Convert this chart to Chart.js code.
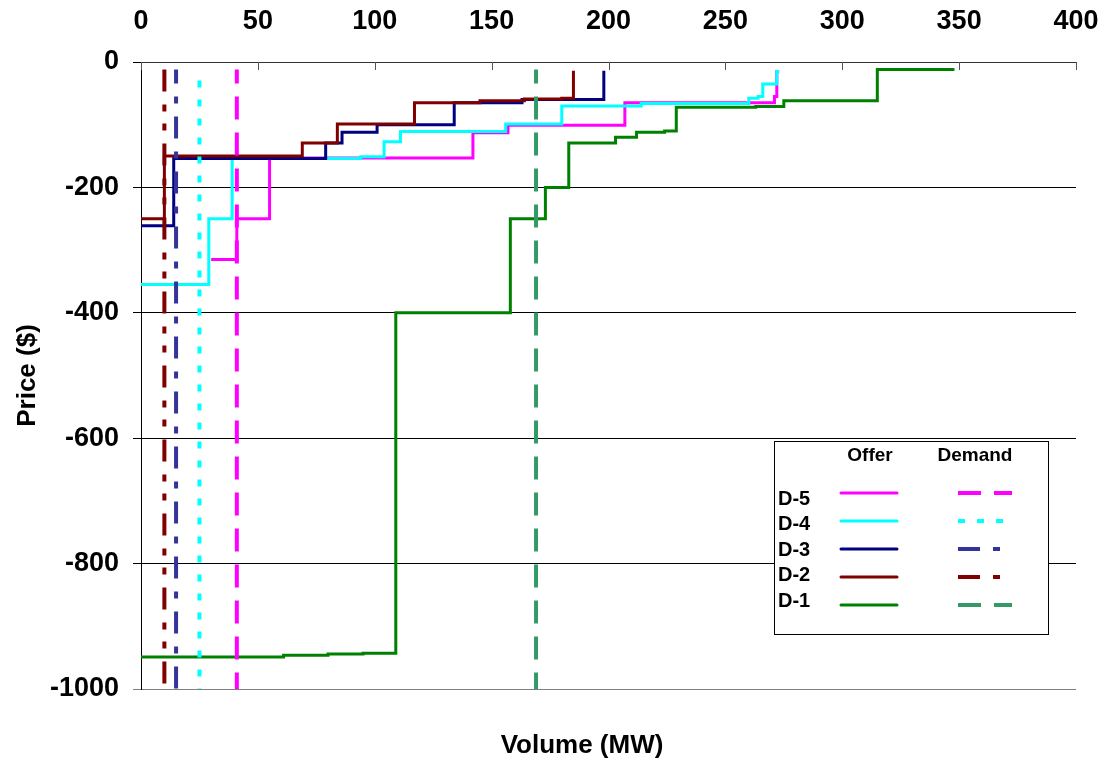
<!DOCTYPE html>
<html>
<head>
<meta charset="utf-8">
<script src="https://cdn.jsdelivr.net/npm/chart.js@4.4.1/dist/chart.umd.min.js"></script>
<style>
    html, body { margin: 0; padding: 0; background: #fff; }
</style>
</head>
<body>
<canvas id="priceChart" width="1111" height="764"></canvas>
<script>
// Offer curves: volume where each price step starts, and its price
const d1OfferVol = [0, 61, 80, 95, 109, 158, 173, 183, 203, 212, 224, 229, 263, 275, 315, 348];
const d1OfferPrice = [-949, -946, -944, -943, -400, -250, -200, -129, -120, -112, -110, -72, -71, -62, -12, -12];
const d2OfferVol = [0, 10, 69, 84, 117, 145, 164, 180, 185];
const d2OfferPrice = [-250, -150, -129, -99, -65, -62, -59, -58, -14];
const d3OfferVol = [0, 14, 79, 86, 101, 134, 163, 198];
const d3OfferPrice = [-261, -154, -129, -112, -100, -65, -60, -14];
const d4OfferVol = [0, 29, 39, 94, 104, 111, 156, 180, 214, 260, 264, 266, 272, 273];
const d4OfferPrice = [-355, -250, -154, -151, -127, -111, -99, -70, -66, -58, -55, -35, -15, -15];
const d5OfferVol = [30, 41, 55, 142, 157, 207, 271, 272, 273];
const d5OfferPrice = [-315, -250, -153, -113, -101, -65, -55, -15, -15];

// Demand (vertical lines)
const demandLabels = ['D-1', 'D-2', 'D-3', 'D-4', 'D-5'];
const demandVol = [169, 10, 15, 25, 41];
const demandPrice = [-12, -1000];

const xTicks = [0, 50, 100, 150, 200, 250, 300, 350, 400];
const yTicks = [-1000, -800, -600, -400, -200, 0];

const FONT = "'Liberation Sans', Arial, sans-serif";

function toPoints(vols, prices) {
    return vols.map((v, i) => ({ x: v, y: prices[i] }));
}

function demandPoints(i) {
    return demandPrice.map(p => ({ x: demandVol[i], y: p }));
}

// Offer style per area
const offerColors = { 'D-1': '#008000', 'D-2': '#800000', 'D-3': '#000080', 'D-4': '#00FFFF', 'D-5': '#FF00FF' };
const demandColors = { 'D-1': '#339966', 'D-2': '#800000', 'D-3': '#333399', 'D-4': '#00FFFF', 'D-5': '#FF00FF' };
const demandDash = {
    'D-1': [23, 13], 'D-2': [22, 13, 7, 12, 7, 13], 'D-3': [22, 13, 7, 13],
    'D-4': [7, 12], 'D-5': [23, 13]
};
const demandDashOffset = { 'D-1': 9, 'D-2': 0, 'D-3': 8, 'D-4': 8, 'D-5': 9 };

function offerSet(label, vols, prices) {
    return {
        label: label + ' Offer',
        data: toPoints(vols, prices),
        borderColor: offerColors[label],
        borderWidth: 3,
        stepped: 'before',
        pointRadius: 0,
        fill: false
    };
}

function demandSet(i) {
    const label = demandLabels[i];
    return {
        label: label + ' Demand',
        data: demandPoints(i),
        borderColor: demandColors[label],
        borderWidth: 4,
        borderDash: demandDash[label],
        borderDashOffset: demandDashOffset[label],
        borderCapStyle: 'butt',
        pointRadius: 0,
        fill: false
    };
}

// Tick marks of the top axis point down into the plot
const innerTicks = {
    id: 'innerTicks',
    beforeDatasetsDraw(chart) {
        const x = chart.scales.x;
        const ctx = chart.ctx;
        const top = chart.chartArea.top;
        ctx.save();
        ctx.strokeStyle = '#555';
        ctx.lineWidth = 1;
        x.ticks.forEach(t => {
            const px = Math.round(x.getPixelForValue(t.value)) + 0.5;
            ctx.beginPath();
            ctx.moveTo(px, top);
            ctx.lineTo(px, top + 8);
            ctx.stroke();
        });
        ctx.restore();
    }
};

// Volume title sits under the plot, a bit left of centre as in the original
const volumeTitle = {
    id: 'volumeTitle',
    afterDraw(chart) {
        const ctx = chart.ctx;
        ctx.save();
        ctx.fillStyle = '#000';
        ctx.font = 'bold 26px ' + FONT;
        ctx.textAlign = 'center';
        ctx.textBaseline = 'middle';
        ctx.fillText('Volume (MW)', 582, 746);
        ctx.restore();
    }
};

// Two-column legend box (Offer / Demand)
const offerDemandLegend = {
    id: 'offerDemandLegend',
    afterDraw(chart) {
        const ctx = chart.ctx;
        const box = { left: 774, top: 441, width: 274, height: 193 };
        const rows = ['D-5', 'D-4', 'D-3', 'D-2', 'D-1'];
        const sets = chart.data.datasets;

        ctx.save();
        ctx.fillStyle = '#fff';
        ctx.fillRect(box.left, box.top, box.width, box.height);
        ctx.strokeStyle = '#000';
        ctx.lineWidth = 1;
        ctx.strokeRect(box.left + 0.5, box.top + 0.5, box.width, box.height);

        ctx.fillStyle = '#000';
        ctx.textBaseline = 'middle';
        ctx.textAlign = 'center';
        ctx.font = 'bold 19px ' + FONT;
        ctx.fillText('Offer', box.left + 96, box.top + 15);
        ctx.fillText('Demand', box.left + 201, box.top + 15);

        rows.forEach((name, i) => {
            const lineY = box.top + 52 + i * 28;
            ctx.font = 'bold 20px ' + FONT;
            ctx.textAlign = 'left';
            ctx.fillStyle = '#000';
            ctx.fillText(name, box.left + 4, box.top + 58 + i * 25.5);

            const offer = sets.find(s => s.label === name + ' Offer');
            const demand = sets.find(s => s.label === name + ' Demand');

            ctx.setLineDash([]);
            ctx.lineCap = 'round';
            ctx.strokeStyle = offer.borderColor;
            ctx.lineWidth = offer.borderWidth;
            ctx.beginPath();
            ctx.moveTo(box.left + 67, lineY);
            ctx.lineTo(box.left + 123, lineY);
            ctx.stroke();

            ctx.lineCap = 'butt';
            ctx.setLineDash(demand.borderDash);
            ctx.strokeStyle = demand.borderColor;
            ctx.lineWidth = demand.borderWidth;
            ctx.beginPath();
            ctx.moveTo(box.left + 184, lineY);
            ctx.lineTo(box.left + 238, lineY);
            ctx.stroke();
        });
        ctx.restore();
    }
};

const chart = new Chart(document.getElementById('priceChart'), {
    type: 'line',
    data: {
        datasets: [
            demandSet(1), demandSet(2), demandSet(3), demandSet(4), demandSet(0),
            offerSet('D-2', d2OfferVol, d2OfferPrice),
            offerSet('D-3', d3OfferVol, d3OfferPrice),
            offerSet('D-4', d4OfferVol, d4OfferPrice),
            offerSet('D-5', d5OfferVol, d5OfferPrice),
            offerSet('D-1', d1OfferVol, d1OfferPrice)
        ]
    },
    options: {
        responsive: false,
        animation: false,
        devicePixelRatio: 1,
        layout: { padding: { left: 0, right: 35, top: 0, bottom: 75 } },
        plugins: {
            legend: { display: false },
            tooltip: { enabled: false }
        },
        scales: {
            x: {
                type: 'linear',
                position: 'top',
                min: 0,
                max: 400,
                afterBuildTicks: s => { s.ticks = xTicks.map(v => ({ value: v })); },
                ticks: {
                    color: '#000',
                    padding: 24,
                    maxRotation: 0,
                    callback: v => String(v),
                    font: { family: FONT, size: 27, weight: 'bold' }
                },
                grid: { drawOnChartArea: false, drawTicks: false },
                border: { color: '#333', width: 1 },
                afterFit: s => {
                    s.height = 62;
                    s.paddingLeft = 0;
                    s.paddingRight = 0;
                }
            },
            y: {
                type: 'linear',
                position: 'left',
                min: -1000,
                max: 0,
                afterBuildTicks: s => { s.ticks = yTicks.map(v => ({ value: v })); },
                ticks: {
                    color: '#000',
                    padding: 14,
                    callback: v => String(v),
                    font: { family: FONT, size: 27, weight: 'bold' }
                },
                grid: {
                    color: ctx => (ctx.tick && ctx.tick.value === -1000) ? '#808080' : '#000',
                    lineWidth: 1,
                    tickLength: 8
                },
                border: { color: '#000', width: 1 },
                title: {
                    display: true,
                    text: 'Price ($)',
                    color: '#000',
                    font: { family: FONT, size: 26, weight: 'bold' },
                    padding: { top: 12, bottom: 0 }
                },
                afterFit: s => {
                    s.width = 141;
                    s.paddingTop = 0;
                    s.paddingBottom = 0;
                }
            }
        }
    },
    plugins: [innerTicks, volumeTitle, offerDemandLegend]
});
</script>
</body>
</html>
